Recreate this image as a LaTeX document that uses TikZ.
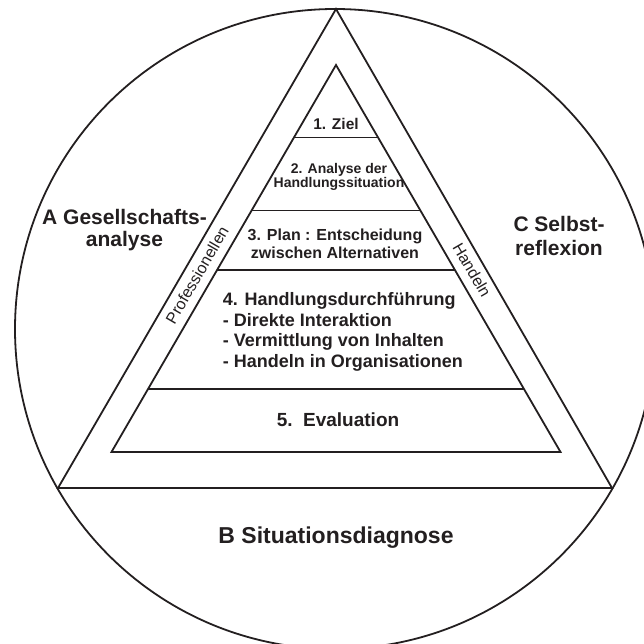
\documentclass[tikz,border=0pt]{standalone}
\usepackage{fontspec}
\setmainfont{Liberation Sans}
\usetikzlibrary{calc}
\definecolor{ink}{HTML}{231F20}
\begin{document}
\begin{tikzpicture}[x=1pt,y=-1pt,line width=1.8pt,line join=miter,draw=ink,
  lbl/.style={text=ink,font=\bfseries,align=center,inner sep=0pt},
  band/.style={text=ink,inner sep=0pt,font=\fontsize{16}{16}\selectfont}]
\useasboundingbox (0,0) rectangle (644,644);
\clip (0,0) rectangle (644,644);

% outer circle
\draw[ink] (335,329) circle[radius=320];

% outer triangle
\coordinate (oA) at (336,9);
\coordinate (oL) at (58,488);
\coordinate (oR) at (612,488);
\draw[ink] (oA) -- (oL) -- (oR) -- cycle;

% inner pyramid
\coordinate (iA) at (336,65);
\coordinate (iL) at (111.5,452);
\coordinate (iR) at (560.5,452);
\draw[ink] (iA) -- (iL) -- (iR) -- cycle;

% level dividers
\foreach \t in {0.1873,0.3760,0.5297,0.8372}
  \draw[ink] ($(iA)!\t!(iL)$) -- ($(iA)!\t!(iR)$);

% pyramid levels
\node[lbl,font=\bfseries\fontsize{15.5}{16}\selectfont] (ziel) at (336,124) {1. Ziel};
\node[lbl,font=\bfseries\fontsize{14}{14}\selectfont] (analyse) at (339,177) {2. Analyse der\\Handlungssituation};
\node[lbl,font=\bfseries\fontsize{16}{18}\selectfont] (plan) at (335,244) {3. Plan : Entscheidung\\zwischen Alternativen};
\node[lbl,align=left,anchor=west,font=\bfseries\fontsize{18}{20.7}\selectfont] (durch) at (222,332)
  {4. Handlungsdurchführung\\- Direkte Interaktion\\- Vermittlung von Inhalten\\- Handeln in Organisationen};
\node[lbl,font=\bfseries\fontsize{19}{20}\selectfont] (eval) at (338,420) {5.\ \ Evaluation};

% outer fields
\node[lbl,font=\bfseries\fontsize{21}{22}\selectfont] (ga) at (124.5,230) {A Gesellschafts-\\analyse};
\node[lbl,font=\bfseries\fontsize{23}{24}\selectfont] (sd) at (336,538) {B Situationsdiagnose};
\node[lbl,font=\bfseries\fontsize{21}{24}\selectfont] (sr) at (559,236) {C Selbst-\\reflexion};

% band labels
\node[band,rotate=59.9] (prof) at (197,275) {Professionellen};
\node[band,rotate=-59.9] (hand) at (472,270) {Handeln};
\end{tikzpicture}
\end{document}
